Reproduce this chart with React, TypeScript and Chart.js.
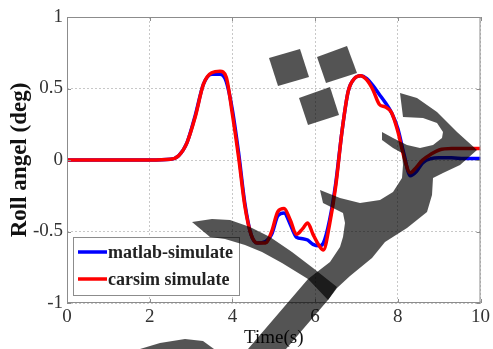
import React, { useEffect, useRef } from 'react';
import { Chart, registerables } from 'chart.js';

Chart.register(...registerables);

// ---- data ----
const timeS = [0, 1, 2, 2.5, 2.7, 2.9, 3.1, 3.3, 3.5, 3.7, 3.85, 4.0, 4.15, 4.3, 4.45, 4.6, 4.8, 4.95, 5.1, 5.25, 5.4, 5.55, 5.7, 5.82, 5.95, 6.1, 6.2, 6.35, 6.5, 6.65, 6.8, 6.95, 7.1, 7.25, 7.4, 7.55, 7.7, 7.85, 8.0, 8.15, 8.3, 8.45, 8.6, 8.8, 9.0, 9.3, 9.6, 10];
const matlabSimulate = [0, 0, 0, 0.005, 0.03, 0.12, 0.31, 0.53, 0.6, 0.6, 0.55, 0.35, 0.05, -0.3, -0.52, -0.58, -0.57, -0.52, -0.39, -0.37, -0.45, -0.54, -0.55, -0.56, -0.59, -0.6, -0.58, -0.42, -0.16, 0.2, 0.48, 0.57, 0.59, 0.57, 0.52, 0.46, 0.4, 0.33, 0.22, 0.04, -0.11, -0.08, -0.02, 0.01, 0.015, 0.015, 0.01, 0.01];
const carsimSimulate = [0, 0, 0, 0.005, 0.03, 0.12, 0.3, 0.53, 0.61, 0.62, 0.58, 0.32, 0.02, -0.32, -0.52, -0.58, -0.58, -0.5, -0.36, -0.34, -0.42, -0.52, -0.48, -0.44, -0.52, -0.6, -0.63, -0.45, -0.18, 0.2, 0.48, 0.57, 0.59, 0.56, 0.49, 0.39, 0.37, 0.33, 0.2, 0.02, -0.09, -0.05, 0.0, 0.04, 0.07, 0.08, 0.08, 0.08];
const seriesLabels = ['matlab-simulate', 'carsim simulate'];
const seriesColors = ['#0000ff', '#ff0000'];
const xTicks = [0, 2, 4, 6, 8, 10];
const yTicks = [-1, -0.5, 0, 0.5, 1];
const xTitle = 'Time(s)';
const yTitle = 'Roll angel (deg)';

// ---- decorative overlay shapes present on the reference image (pixel space) ----
const overlayShapes: number[][][] = [
  [[269, 58], [300, 49], [309, 77], [278, 86]],
  [[317, 57], [347, 46], [357, 73], [326, 83]],
  [[299, 98], [330, 87], [339, 115], [308, 125]],
  [[192, 222], [212, 219], [230, 220], [250, 227], [270, 237], [292, 252], [313, 268], [337, 287], [328, 300], [308, 279], [282, 263], [262, 252], [245, 245], [225, 239], [210, 237]],
  [
    [320, 190], [340, 198], [360, 203], [380, 200], [393, 192], [402, 178], [403, 165], [402, 153], [393, 148], [382, 140], [382, 132],
    [393, 138], [407, 145], [420, 148], [433, 145], [442, 138], [443, 132], [437, 123], [423, 118], [403, 117],
    [400, 93], [417, 98], [437, 112], [457, 132], [477, 150],
    [460, 165], [443, 173], [433, 178], [432, 195], [427, 212], [407, 228], [385, 242], [372, 258], [350, 276], [337, 288], [328, 300], [286, 349],
    [248, 349], [308, 279], [330, 262], [340, 247], [343, 237], [345, 223], [343, 213], [333, 208], [323, 203],
  ],
  [[140, 349], [160, 343], [185, 339], [203, 341], [214, 349]],
];

const SERIF = "'Liberation Serif', 'Times New Roman', serif";

const decorPlugin = {
  id: 'decor',
  afterDatasetsDraw(chart: any) {
    const { ctx, chartArea: a, scales } = chart;
    ctx.save();
    // axes box
    ctx.strokeStyle = '#8c8c8c';
    ctx.lineWidth = 1;
    ctx.strokeRect(a.left + 0.5, a.top + 0.5, a.right - a.left - 1, a.bottom - a.top - 1);
    // inward tick marks
    ctx.beginPath();
    xTicks.forEach((v) => {
      const px = Math.round(scales.x.getPixelForValue(v)) + 0.5;
      ctx.moveTo(px, a.bottom); ctx.lineTo(px, a.bottom - 4);
      ctx.moveTo(px, a.top); ctx.lineTo(px, a.top + 4);
    });
    yTicks.forEach((v) => {
      const py = Math.round(scales.y.getPixelForValue(v)) + 0.5;
      ctx.moveTo(a.left, py); ctx.lineTo(a.left + 4, py);
      ctx.moveTo(a.right, py); ctx.lineTo(a.right - 4, py);
    });
    ctx.stroke();
    // legend (inside, lower-left)
    const lw = 167, lh = 59;
    const lx = a.left + 6, ly = a.bottom - 7 - lh;
    ctx.fillStyle = '#ffffff';
    ctx.fillRect(lx, ly, lw, lh);
    ctx.strokeStyle = '#8c8c8c';
    ctx.strokeRect(lx + 0.5, ly + 0.5, lw - 1, lh - 1);
    ctx.font = `bold 18px ${SERIF}`;
    ctx.textBaseline = 'middle';
    ctx.textAlign = 'left';
    chart.data.datasets.slice().sort((p: any, q: any) => p.legendIndex - q.legendIndex).forEach((ds: any, i: number) => {
      const y = ly + 15 + i * 27;
      ctx.strokeStyle = ds.borderColor;
      ctx.lineWidth = 3.5;
      ctx.beginPath();
      ctx.moveTo(lx + 5, y);
      ctx.lineTo(lx + 34, y);
      ctx.stroke();
      ctx.fillStyle = '#222';
      ctx.fillText(ds.label, lx + 35, y + 1);
    });
    ctx.restore();
  },
  afterDraw(chart: any) {
    const { ctx } = chart;
    ctx.save();
    ctx.fillStyle = 'rgba(0,0,0,0.67)';
    overlayShapes.forEach((poly) => {
      ctx.beginPath();
      poly.forEach(([x, y], i) => (i === 0 ? ctx.moveTo(x, y) : ctx.lineTo(x, y)));
      ctx.closePath();
      ctx.fill();
    });
    ctx.restore();
  },
};

export default function App() {
  const ref = useRef<HTMLCanvasElement>(null);
  useEffect(() => {
    if (!ref.current) return;
    const mk = (vals: number[]) => timeS.map((t, i) => ({ x: t, y: vals[i] }));
    const chart = new Chart(ref.current, {
      type: 'line',
      data: {
        datasets: [
          { label: seriesLabels[0], data: mk(matlabSimulate), borderColor: seriesColors[0], borderWidth: 3.5, pointRadius: 0, cubicInterpolationMode: 'monotone', order: 1, legendIndex: 0 } as any,
          { label: seriesLabels[1], data: mk(carsimSimulate), borderColor: seriesColors[1], borderWidth: 3.5, pointRadius: 0, cubicInterpolationMode: 'monotone', order: 0, legendIndex: 1 } as any,
        ],
      },
      options: {
        responsive: false,
        animation: false,
        devicePixelRatio: 1,
        layout: { padding: { top: 17, right: 8, left: 0, bottom: 0 } },
        plugins: { legend: { display: false }, tooltip: { enabled: false } },
        scales: {
          x: {
            type: 'linear', min: 0, max: 10,
            afterBuildTicks: (s: any) => { s.ticks = xTicks.map((v) => ({ value: v })); },
            afterFit: (s: any) => { s.height = 46; },
            grid: { color: '#c8c8c8', drawTicks: false, lineWidth: 1 },
            border: { display: false, dash: [2, 2] },
            ticks: { color: '#333', font: { family: SERIF, size: 19 }, padding: 3, maxRotation: 0, callback: (v: any) => String(v) },
            title: { display: true, text: xTitle, color: '#111', font: { family: SERIF, size: 19 }, padding: { top: 0, bottom: 0 } },
          },
          y: {
            type: 'linear', min: -1, max: 1,
            afterBuildTicks: (s: any) => { s.ticks = yTicks.map((v) => ({ value: v })); },
            afterFit: (s: any) => { s.width = 67; },
            grid: { color: '#c8c8c8', drawTicks: false, lineWidth: 1 },
            border: { display: false, dash: [2, 2] },
            ticks: { color: '#333', font: { family: SERIF, size: 19 }, padding: 4, callback: (v: any) => String(v) },
            title: { display: true, text: yTitle, color: '#111', font: { family: SERIF, size: 23, weight: 'bold' }, padding: { top: 6, bottom: 0 } },
          },
        },
      } as any,
      plugins: [decorPlugin],
    });
    return () => chart.destroy();
  }, []);
  return (
    <div style={{ position: 'fixed', left: 0, top: 0, width: 493, height: 349, background: '#fff' }}>
      <canvas ref={ref} width={493} height={349} style={{ display: 'block', width: 493, height: 349 }} />
    </div>
  );
}
